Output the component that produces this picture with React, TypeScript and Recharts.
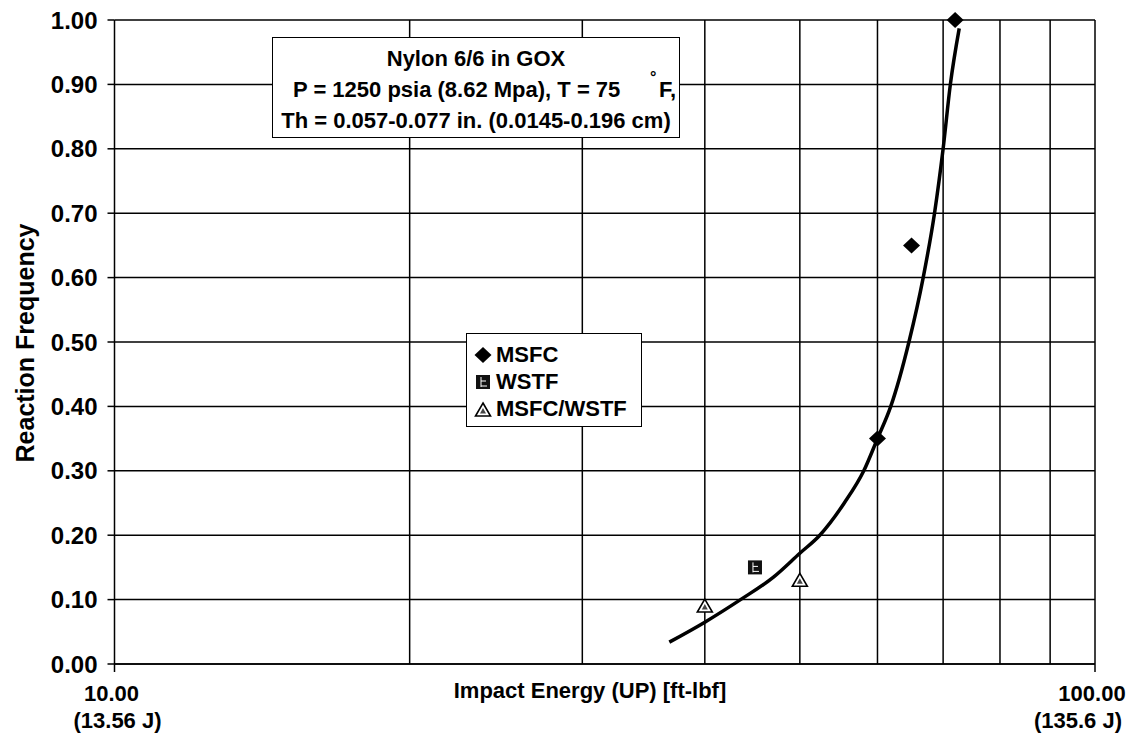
import React from 'react';
import {
  ComposedChart,
  Line,
  Scatter,
  XAxis,
  YAxis,
  CartesianGrid,
  ReferenceLine,
  Legend,
} from 'recharts';

// Impact energy (ft-lbf) vs. reaction frequency, Nylon 6/6 in GOX
const msfcX = [60, 65, 72];
const msfcY = [0.35, 0.65, 1.0];

const wstfX = [45];
const wstfY = [0.15];

const bothX = [40, 50];
const bothY = [0.09, 0.13];

// fitted curve
const fitX = [36.8, 40, 43.5, 47, 50, 52.4, 55.5, 58.1, 60, 61.9, 64.6, 66.8, 68.6, 70.0, 71.2, 72.7];
const fitY = [0.034, 0.065, 0.1, 0.135, 0.172, 0.2, 0.25, 0.3, 0.35, 0.4, 0.5, 0.6, 0.7, 0.8, 0.9, 0.987];

const yTicks = [0, 0.1, 0.2, 0.3, 0.4, 0.5, 0.6, 0.7, 0.8, 0.9, 1.0];
const xTicks = [10, 100];
const xTickTop = ['10.00', '100.00'];
const xTickBottom = ['(13.56 J)', '(135.6 J)'];
const xGrid = [20, 30, 40, 50, 60, 70, 80, 90, 100];

const toPoints = (xs: number[], ys: number[]) => xs.map((x, i) => ({ x, y: ys[i] }));

const msfcData = toPoints(msfcX, msfcY);
const wstfData = toPoints(wstfX, wstfY);
const bothData = toPoints(bothX, bothY);
const fitData = toPoints(fitX, fitY);

const FONT = '"Liberation Sans", Arial, Helvetica, sans-serif';

const Diamond = ({ cx, cy }: any) => {
  if (cx == null || cy == null) return null;
  return <polygon points={`${cx},${cy - 8} ${cx + 8.5},${cy} ${cx},${cy + 8} ${cx - 8.5},${cy}`} fill="#000" />;
};

const SquareMark = ({ cx, cy }: any) => {
  if (cx == null || cy == null) return null;
  return (
    <g>
      <rect x={cx - 7} y={cy - 7} width={14} height={14} fill="#111" />
      <line x1={cx - 2} y1={cy - 5} x2={cx - 2} y2={cy + 5} stroke="#fff" strokeWidth={1} />
      <line x1={cx - 2} y1={cy - 1} x2={cx + 3} y2={cy - 1} stroke="#fff" strokeWidth={1} />
      <line x1={cx - 2} y1={cy + 4} x2={cx + 4} y2={cy + 4} stroke="#fff" strokeWidth={1} />
    </g>
  );
};

const TriangleMark = ({ cx, cy }: any) => {
  if (cx == null || cy == null) return null;
  return (
    <g>
      <polygon
        points={`${cx},${cy - 7} ${cx + 7.5},${cy + 6} ${cx - 7.5},${cy + 6}`}
        fill="#fff"
        stroke="#000"
        strokeWidth={1.6}
      />
      <polygon points={`${cx},${cy - 2} ${cx + 3},${cy + 3.5} ${cx - 3},${cy + 3.5}`} fill="#444" />
    </g>
  );
};

const XTick = ({ x, y, index }: any) => {
  const dx1 = -3;
  const dx2 = index === 0 ? 3 : -17;
  return (
    <g>
      <text x={x + dx1} y={y + 27} textAnchor="middle" fontFamily={FONT} fontWeight="bold" fontSize={22} fill="#000">
        {xTickTop[index]}
      </text>
      <text x={x + dx2} y={y + 54} textAnchor="middle" fontFamily={FONT} fontWeight="bold" fontSize={22} fill="#000">
        {xTickBottom[index]}
      </text>
    </g>
  );
};

const legendItems = [
  { name: 'MSFC', icon: 'diamond' },
  { name: 'WSTF', icon: 'square' },
  { name: 'MSFC/WSTF', icon: 'triangle' },
];

const LegendIcon = ({ kind }: { kind: string }) => (
  <svg width={18} height={18} style={{ display: 'block' }}>
    {kind === 'diamond' && <Diamond cx={9} cy={9} />}
    {kind === 'square' && <SquareMark cx={9} cy={9} />}
    {kind === 'triangle' && <TriangleMark cx={9} cy={10} />}
  </svg>
);

const LegendBox = () => (
  <div
    style={{
      width: 176,
      height: 94,
      boxSizing: 'border-box',
      border: '1.5px solid #000',
      background: '#fff',
      padding: '7px 0 0 7px',
      fontFamily: FONT,
      fontWeight: 'bold',
      fontSize: 22,
      color: '#000',
    }}
  >
    {legendItems.map((it) => (
      <div key={it.name} style={{ display: 'flex', alignItems: 'center', height: 27 }}>
        <LegendIcon kind={it.icon} />
        <span style={{ marginLeft: 4, lineHeight: '27px' }}>{it.name}</span>
      </div>
    ))}
  </div>
);

export default function App() {
  return (
    <div style={{ position: 'absolute', left: 0, top: 0, width: 1133, height: 742, background: '#fff' }}>
      <ComposedChart
        width={1133}
        height={742}
        margin={{ top: 20, right: 38, bottom: 0, left: 0 }}
        style={{ background: '#fff' }}
      >
        <CartesianGrid vertical={false} stroke="#000" strokeWidth={1.5} />
        <XAxis
          type="number"
          dataKey="x"
          scale="log"
          domain={[10, 100]}
          ticks={xTicks}
          allowDataOverflow
          height={78}
          tickSize={8}
          tickMargin={2}
          axisLine={{ stroke: '#000', strokeWidth: 1.5 }}
          tickLine={{ stroke: '#000', strokeWidth: 1.5 }}
          tick={<XTick />}
          interval={0}
        />
        <YAxis
          type="number"
          domain={[0, 1]}
          ticks={yTicks}
          width={114.5}
          tickSize={7}
          tickMargin={10}
          interval={0}
          tickFormatter={(v: number) => v.toFixed(2)}
          axisLine={{ stroke: '#000', strokeWidth: 1.5 }}
          tickLine={{ stroke: '#000', strokeWidth: 1.5 }}
          tick={{ fontFamily: FONT, fontWeight: 'bold', fontSize: 24, fill: '#000' }}
        />
        {xGrid.map((v) => (
          <ReferenceLine key={v} x={v} stroke="#000" strokeWidth={1.5} ifOverflow="extendDomain" />
        ))}
        <Line
          data={fitData}
          dataKey="y"
          type="monotone"
          stroke="#000"
          strokeWidth={3.5}
          dot={false}
          activeDot={false}
          isAnimationActive={false}
          legendType="none"
        />
        <Scatter name="MSFC" data={msfcData} dataKey="y" shape={<Diamond />} isAnimationActive={false} />
        <Scatter name="WSTF" data={wstfData} dataKey="y" shape={<SquareMark />} isAnimationActive={false} />
        <Scatter name="MSFC/WSTF" data={bothData} dataKey="y" shape={<TriangleMark />} isAnimationActive={false} />
        <Legend
          layout="vertical"
          align="center"
          verticalAlign="middle"
          content={<LegendBox />}
          wrapperStyle={{ position: 'absolute', left: 466, top: 333, width: 176, height: 94 }}
        />
        <text
          x={25}
          y={343}
          transform="rotate(-90, 25, 343)"
          textAnchor="middle"
          dominantBaseline="central"
          fontFamily={FONT}
          fontWeight="bold"
          fontSize={25}
          fill="#000"
        >
          Reaction Frequency
        </text>
        <text
          x={590}
          y={698}
          textAnchor="middle"
          fontFamily={FONT}
          fontWeight="bold"
          fontSize={22}
          fill="#000"
        >
          Impact Energy (UP) [ft-lbf]
        </text>
      </ComposedChart>
      <div
        style={{
          position: 'absolute',
          left: 272,
          top: 37,
          width: 408,
          height: 101,
          boxSizing: 'border-box',
          border: '1.5px solid #000',
          background: '#fff',
          fontFamily: FONT,
          fontWeight: 'bold',
          fontSize: 22,
          color: '#000',
        }}
      >
        <div style={{ position: 'absolute', left: 0, width: '100%', top: 8, textAlign: 'center', whiteSpace: 'nowrap' }}>
          Nylon 6/6 in GOX
        </div>
        <div style={{ position: 'absolute', left: 20, top: 39, whiteSpace: 'nowrap' }}>
          P = 1250 psia (8.62 Mpa), T = 75
        </div>
        <div style={{ position: 'absolute', left: 377, top: 31, fontSize: 16, whiteSpace: 'nowrap' }}>°</div>
        <div style={{ position: 'absolute', left: 386, top: 39, whiteSpace: 'nowrap' }}>F,</div>
        <div style={{ position: 'absolute', left: 0, width: '100%', top: 70, textAlign: 'center', whiteSpace: 'nowrap' }}>
          Th = 0.057-0.077 in. (0.0145-0.196 cm)
        </div>
      </div>
    </div>
  );
}
